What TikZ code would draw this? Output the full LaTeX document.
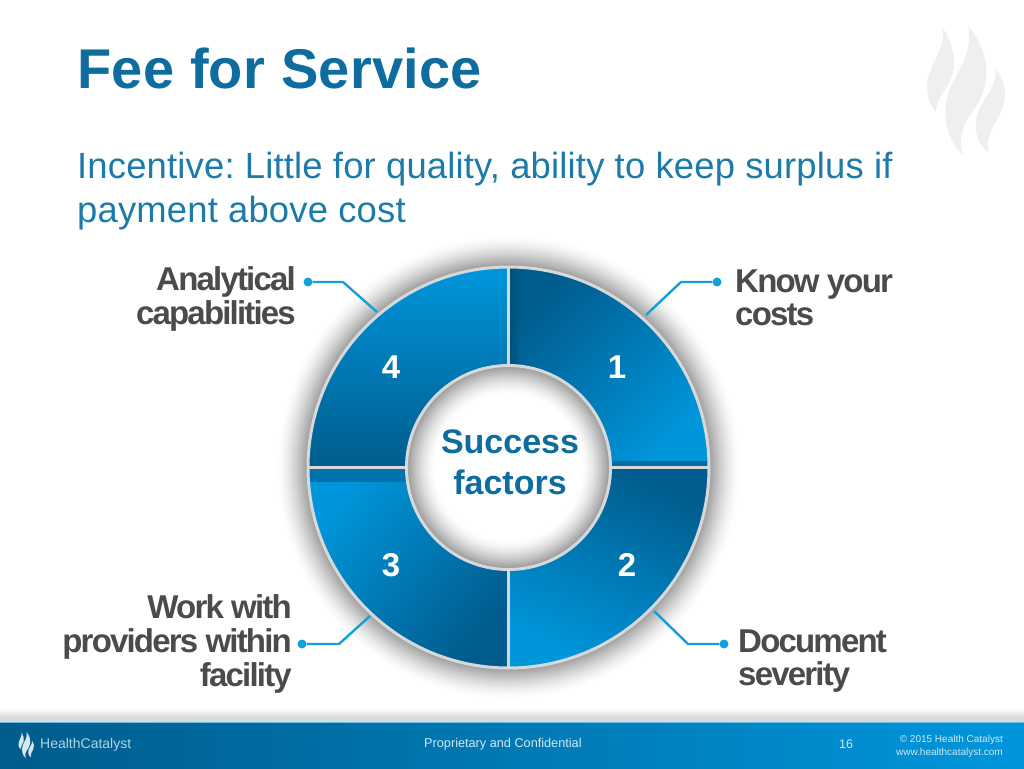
\documentclass[tikz,border=0pt]{standalone}
\usepackage{fontspec}
\setmainfont{Liberation Sans}
\usetikzlibrary{calc}
\definecolor{titleblue}{HTML}{0F6C9E}
\definecolor{subblue}{HTML}{1C7BA9}
\definecolor{segdark}{HTML}{005C8C}
\definecolor{seglight}{HTML}{0096DC}
\definecolor{segdeep}{HTML}{004F78}
\definecolor{linkblue}{HTML}{12A0D8}
\definecolor{labelgray}{HTML}{4A4B4D}
\definecolor{ringgray}{HTML}{D6D8DA}
\definecolor{flamegray}{HTML}{EEF0F0}
\definecolor{footlight}{HTML}{CFE9F6}
\newcommand{\flameshape}{%
  (943,28) .. controls (952,42) and (956,58) .. (953,72)
  .. controls (950,88) and (936,96) .. (936,112)
  .. controls (926,102) and (925,84) .. (930,72)
  .. controls (935,58) and (944,48) .. (943,28) -- cycle
  (968,25) .. controls (980,42) and (990,58) .. (985,85)
  .. controls (980,112) and (953,122) .. (963,155)
  .. controls (948,142) and (942,118) .. (947,98)
  .. controls (953,72) and (974,60) .. (968,25) -- cycle
  (995,68) .. controls (1006,80) and (1008,98) .. (1001,112)
  .. controls (995,124) and (986,134) .. (988,152)
  .. controls (976,142) and (973,126) .. (978,112)
  .. controls (984,96) and (998,88) .. (995,68) -- cycle}
\tikzset{
  x=1pt,y=-1pt,
  titletext/.style={anchor=base west,inner sep=0,font=\fontsize{56}{56}\bfseries\addfontfeature{LetterSpace=0.5},text=titleblue},
  subtext/.style={anchor=base west,inner sep=0,font=\fontsize{36.4}{36.4}\selectfont\addfontfeature{LetterSpace=0.5}\frenchspacing,text=subblue},
  sidelabel/.style={inner sep=0,font=\fontsize{33}{33.6}\bfseries\addfontfeature{LetterSpace=-5.5},text=labelgray},
  numtext/.style={inner sep=0,font=\fontsize{33}{33}\bfseries,text=white},
  hubtext/.style={inner sep=0,align=center,font=\fontsize{34}{41}\bfseries,text=titleblue},
  foottext/.style={inner sep=0,text=footlight},
  linkdot/.style={circle,fill=linkblue,inner sep=0,minimum size=9pt},
  linkline/.style={draw=linkblue,line width=2.4pt},
  seam/.style={draw=ringgray,line width=3.6pt}
}
\newcommand{\quadseg}[2]{% start angle, end angle
  ({#1}:102) -- ({#1}:200) arc[start angle=#1,end angle=#2,radius=200]
  -- ({#2}:102) arc[start angle=#2,end angle=#1,radius=102] -- cycle}
\begin{document}
\begin{tikzpicture}
\useasboundingbox (0,0) rectangle (1024,768);
\fill[white] (0,0) rectangle (1024,768);
% watermark flame
\fill[flamegray] \flameshape;
% title
\node[titletext] (title) at (77,88) {Fee for Service};
\node[subtext] (sub1) at (77,178) {Incentive: Little for quality, ability to keep surplus if};
\node[subtext] (sub2) at (77,222) {payment above cost};
% footer
\shade[top color=white,bottom color=black!14] (0,708) rectangle (1024,717);
\fill[black!14] (0,717) rectangle (1024,722);
\shade[left color=segdark,right color=seglight] (0,722) rectangle (1024,768);
\draw[seglight!60!white,line width=0.8pt] (0,722) -- (1024,722);
\begin{scope}[shift={(-167,727)},scale=0.2]
\fill[white!85!segdark] \flameshape;
\end{scope}
\node[foottext,anchor=west,font=\fontsize{14}{14}\selectfont,text=footlight!85!segdark] (brand) at (40,744.5) {HealthCatalyst};
\node[foottext,anchor=west,font=\fontsize{12.7}{12.7}\selectfont] (conf) at (424,744.5) {Proprietary and Confidential};
\node[foottext,anchor=center,font=\fontsize{12.5}{12.5}\selectfont] (page) at (846,744.5) {16};
\node[foottext,anchor=east,font=\fontsize{10}{10}\selectfont] (copy) at (1003,739.5) {© 2015 Health Catalyst};
\node[foottext,anchor=east,font=\fontsize{10}{10}\selectfont] (web) at (1003,753) {www.healthcatalyst.com};
% ring, centred
\begin{scope}[shift={(508.5,467.5)},x=1pt,y=1pt]
  % soft outer shadow
  \foreach \i in {29,28,...,0}{
    \pgfmathsetmacro{\g}{38*(1-\i/30)^1.5}
    \draw[black!\g!white,line width=1.6pt] (0,0) circle[radius=201+\i];
  }
  % segments
  \shade[top color=segdark,bottom color=seglight,shading angle=45] \quadseg{0}{90};
  \shade[top color=segdark,bottom color=seglight,shading angle=-25] \quadseg{-90}{0};
  \shade[top color=seglight,bottom color=segdark,shading angle=50] \quadseg{180}{270};
  \shade[top color=seglight,middle color=segdark!70!seglight,bottom color=segdark,shading angle=0] \quadseg{90}{180};
  % darker inner edges
  \begin{scope}
    \clip \quadseg{0}{90};
    \shade[left color=segdeep,right color=segdark] (0,0) rectangle (10,200);
    \fill[segdark!70!seglight] (0,0) rectangle (200,7);
  \end{scope}
  \begin{scope}
    \clip \quadseg{180}{270};
    \fill[segdark!60!seglight] (-200,0) rectangle (0,-14);
  \end{scope}
  % inner hub shadow
  \fill[white] (0,0) circle[radius=102];
  \foreach \i in {0,1,...,27}{
    \pgfmathsetmacro{\g}{40*(1-\i/28)^1.5}
    \draw[black!\g!white,line width=1.6pt] (0,0) circle[radius=101-\i];
  }
  % seams and rims
  \draw[seam,line width=3pt] (0,0) circle[radius=200.5];
  \draw[seam,line width=3pt] (0,0) circle[radius=102];
  \draw[seam] (0,102) -- (0,200) (0,-102) -- (0,-200) (102,0) -- (200,0) (-102,0) -- (-200,0);
\end{scope}
% numbers and hub text
\node[numtext] (n1) at (617,367) {1};
\node[numtext] (n2) at (627,565) {2};
\node[numtext] (n3) at (391,565) {3};
\node[numtext] (n4) at (391,367) {4};
\node[hubtext] (hub) at (510,462) {Success\\factors};
% side labels
\node[sidelabel,align=left,anchor=west] (l1) at (735,298) {Know your\\costs};
\node[sidelabel,align=left,anchor=west] (l2) at (738,661) {Document\\severity};
\node[sidelabel,align=right,anchor=east] (l3) at (292,644) {Work with\\providers within\\facility};
\node[sidelabel,align=right,anchor=east] (l4) at (296,299) {Analytical\\capabilities};
% connectors
\node[linkdot] (d1) at (717,282) {};
\coordinate (e1) at (681,282);
\coordinate (r1) at (646,315);
\draw[linkline] (d1) -- (e1) -- (r1);
\node[linkdot] (d2) at (724,644) {};
\coordinate (e2) at (688,644);
\coordinate (r2) at (654,611);
\draw[linkline] (d2) -- (e2) -- (r2);
\node[linkdot] (d3) at (302,644) {};
\coordinate (e3) at (339,644);
\coordinate (r3) at (370,616);
\draw[linkline] (d3) -- (e3) -- (r3);
\node[linkdot] (d4) at (308,282) {};
\coordinate (e4) at (343,282);
\coordinate (r4) at (377,312);
\draw[linkline] (d4) -- (e4) -- (r4);
\end{tikzpicture}
\end{document}
